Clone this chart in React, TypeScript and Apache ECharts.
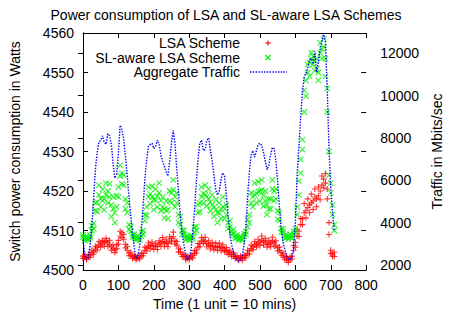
import React, { useEffect, useRef } from "react";
import * as echarts from "echarts";

const FONT = '"Liberation Sans", Arial, Helvetica, sans-serif';

const titleText = "Power consumption of LSA and SL-aware LSA Schemes";
const xName = "Time (1 unit = 10 mins)";
const yLeftName = "Switch power consumption in Watts";
const yRightName = "Traffic in Mbits/sec";
const legendNames = ["LSA Scheme", "SL-aware LSA Scheme", "Aggregate Traffic"];

// time steps (1 unit = 10 mins)
const time = [
  0, 5, 10, 15, 20, 25, 30, 35, 40, 45,
  50, 55, 60, 65, 70, 75, 80, 85, 90, 95,
  100, 105, 110, 115, 120, 125, 130, 135, 140, 145,
  150, 155, 160, 165, 170, 175, 180, 185, 190, 195,
  200, 205, 210, 215, 220, 225, 230, 235, 240, 245,
  250, 255, 260, 265, 270, 275, 280, 285, 290, 295,
  300, 305, 310, 315, 320, 325, 330, 335, 340, 345,
  350, 355, 360, 365, 370, 375, 380, 385, 390, 395,
  400, 405, 410, 415, 420, 425, 430, 435, 440, 445,
  450, 455, 460, 465, 470, 475, 480, 485, 490, 495,
  500, 505, 510, 515, 520, 525, 530, 535, 540, 545,
  550, 555, 560, 565, 570, 575, 580, 585, 590, 595,
  600, 605, 610, 615, 620, 625, 630, 635, 640, 645,
  650, 655, 660, 665, 670, 675, 680, 685, 690, 695,
  700, 705, 710,
];

// Aggregate traffic (Mbits/sec), right axis
const traffic = [
  3200, 2500, 2250, 2350, 2900, 3900, 5100, 6500, 7300, 7800,
  7900, 8100, 7800, 7700, 8200, 8100, 7700, 6800, 6100, 6300,
  7300, 8600, 8400, 7900, 7100, 6200, 5200, 4300, 3500, 2800,
  2300, 2400, 2900, 3700, 4800, 6100, 7000, 7600, 7700, 7750,
  7500, 7600, 7900, 7700, 7200, 6900, 6650, 6400, 6200, 6900,
  7800, 8350, 7700, 6500, 5400, 4300, 3500, 2950, 2500, 2250,
  2350, 2650, 3500, 4600, 5900, 7000, 7750, 7900, 7400, 7450,
  7900, 8000, 7400, 6900, 6200, 5550, 5300, 5500, 6050, 6350,
  6200, 5300, 4300, 3500, 2950, 2600, 2400, 2250, 2150, 2250,
  2450, 2950, 3700, 5200, 6400, 7200, 7400, 7100, 7400, 7700,
  7750, 7650, 7300, 6900, 6500, 6700, 7200, 7550, 7500, 6900,
  5900, 4700, 3700, 3100, 2750, 2450, 2300, 2250, 2400, 2800,
  4000, 6300, 7600, 9000, 10200, 10900, 11050, 11300, 11700, 11750,
  11500, 12100, 11100, 11600, 12200, 12600, 12950, 12500, 10300, 7500,
  5600, 4500, 3600,
];

// LSA scheme power (W), two readings per time step (band spread)
const lsaA = [
  4503.5, 4503.2, 4503.0, 4503.3, 4503.8, 4504.3, 4504.6, 4505.3, 4505.8, 4506.3,
  4506.8, 4506.6, 4507.0, 4507.2, 4506.9, 4506.4, 4505.9, 4505.5, 4505.1, 4505.4,
  4507.5, 4508.6, 4509.4, 4507.8, 4506.5, 4505.0, 4504.3, 4503.8, 4503.4, 4503.2,
  4503.0, 4503.0, 4503.3, 4503.6, 4504.2, 4505.0, 4505.6, 4506.0, 4506.3, 4506.2,
  4506.0, 4505.9, 4506.0, 4506.5, 4507.0, 4507.2, 4506.9, 4506.7, 4506.8, 4507.3,
  4508.0, 4508.4, 4507.4, 4506.3, 4505.3, 4504.5, 4504.0, 4503.5, 4503.1, 4503.0,
  4503.1, 4503.3, 4503.6, 4504.2, 4505.0, 4505.8, 4506.7, 4507.3, 4507.6, 4507.2,
  4506.7, 4506.4, 4506.2, 4506.0, 4505.9, 4505.8, 4505.9, 4505.9, 4505.7, 4505.5,
  4505.3, 4504.9, 4504.6, 4504.3, 4504.0, 4503.8, 4503.4, 4503.1, 4503.0, 4503.0,
  4503.0, 4503.2, 4503.7, 4504.2, 4504.8, 4505.4, 4505.9, 4506.3, 4506.6, 4506.8,
  4507.1, 4507.5, 4507.3, 4507.0, 4506.6, 4506.5, 4506.8, 4507.2, 4507.0, 4506.3,
  4505.6, 4505.0, 4504.5, 4503.6, 4503.2, 4502.8, 4502.5, 4502.6, 4503.5, 4505.0,
  4507.0, 4508.6, 4509.8, 4511.5, 4513.0, 4514.5, 4515.0, 4515.8, 4516.5, 4517.0,
  4517.5, 4518.5, 4518.0, 4518.8, 4520.0, 4521.5, 4523.0, 4522.0, 4520.5, 4509.0,
  4505.0, 4504.0, 4503.4,
];
const lsaB = [
  4502.9, 4503.8, 4502.6, 4503.9, 4503.2, 4505.0, 4504.0, 4506.0, 4505.0, 4507.2,
  4505.8, 4507.5, 4506.0, 4508.0, 4506.0, 4507.5, 4505.0, 4506.4, 4504.4, 4506.3,
  4506.6, 4509.8, 4508.2, 4509.0, 4505.6, 4506.0, 4503.6, 4504.5, 4502.9, 4503.7,
  4502.6, 4503.5, 4502.8, 4504.2, 4503.6, 4505.8, 4504.8, 4506.9, 4505.4, 4507.1,
  4505.2, 4506.8, 4505.2, 4507.4, 4506.0, 4508.2, 4506.0, 4507.8, 4505.9, 4508.4,
  4507.1, 4509.6, 4506.6, 4507.2, 4504.6, 4505.3, 4503.4, 4504.0, 4502.6, 4503.5,
  4502.6, 4503.8, 4503.0, 4504.9, 4504.3, 4506.7, 4505.9, 4508.2, 4506.8, 4508.3,
  4505.9, 4507.4, 4505.3, 4507.0, 4505.1, 4506.8, 4505.0, 4506.8, 4504.9, 4506.4,
  4504.6, 4505.7, 4503.9, 4505.0, 4503.4, 4504.4, 4502.9, 4503.6, 4502.5, 4503.5,
  4502.5, 4503.7, 4503.1, 4505.0, 4504.0, 4506.3, 4505.1, 4507.2, 4505.8, 4507.8,
  4506.2, 4508.6, 4506.4, 4508.0, 4505.8, 4507.5, 4505.9, 4508.3, 4506.0, 4507.4,
  4504.8, 4505.8, 4503.8, 4504.3, 4502.6, 4503.4, 4501.9, 4503.2, 4502.8, 4506.2,
  4505.8, 4510.2, 4508.5, 4513.0, 4511.5, 4516.8, 4513.2, 4518.0, 4514.5, 4519.2,
  4515.3, 4520.5, 4516.0, 4521.0, 4517.8, 4523.8, 4520.8, 4524.4, 4518.0, 4512.0,
  4504.2, 4503.5, 4504.5,
];

// SL-aware LSA scheme power (W), two readings per time step
const slA = [
  4508.3, 4508.0, 4507.9, 4508.1, 4508.8, 4510.0, 4511.8, 4515.0, 4517.2, 4519.0,
  4518.2, 4517.5, 4518.0, 4519.0, 4520.0, 4518.5, 4516.5, 4515.5, 4514.5, 4516.0,
  4521.0, 4523.8, 4524.5, 4521.5, 4518.0, 4514.5, 4511.5, 4509.8, 4509.0, 4508.3,
  4508.0, 4508.0, 4508.2, 4508.6, 4510.0, 4512.5, 4516.0, 4518.5, 4519.3, 4518.5,
  4517.8, 4517.7, 4518.8, 4519.5, 4517.5, 4516.0, 4515.5, 4515.0, 4515.3, 4517.5,
  4519.5, 4520.3, 4518.5, 4517.0, 4514.0, 4511.5, 4510.0, 4509.0, 4508.4, 4508.0,
  4508.0, 4508.2, 4508.4, 4509.5, 4511.0, 4514.5, 4517.0, 4518.5, 4519.4, 4519.0,
  4518.6, 4518.0, 4517.2, 4516.5, 4516.0, 4515.2, 4514.5, 4514.4, 4515.5, 4516.0,
  4515.5, 4514.0, 4512.0, 4510.8, 4509.8, 4509.2, 4508.6, 4508.2, 4508.0, 4508.0,
  4508.0, 4508.6, 4509.8, 4511.0, 4514.0, 4516.9, 4518.5, 4519.0, 4519.4, 4519.8,
  4520.0, 4520.3, 4518.8, 4517.5, 4516.5, 4515.5, 4518.0, 4520.5, 4520.0, 4518.0,
  4515.0, 4512.5, 4510.5, 4509.5, 4508.6, 4508.4, 4508.3, 4508.4, 4508.5, 4509.0,
  4510.5, 4514.0, 4519.0, 4524.5, 4533.0, 4540.0, 4548.0, 4550.0, 4552.5, 4553.5,
  4552.0, 4553.0, 4551.0, 4550.0, 4555.0, 4556.0, 4556.5, 4553.5, 4540.0, 4524.0,
  4519.5, 4514.0, 4510.0,
];
const slB = [
  4508.9, 4507.5, 4508.6, 4507.6, 4508.2, 4511.2, 4510.4, 4517.0, 4514.8, 4521.5,
  4516.0, 4520.5, 4515.2, 4522.0, 4517.0, 4521.8, 4513.5, 4518.5, 4512.0, 4518.8,
  4518.5, 4526.5, 4521.8, 4524.0, 4515.5, 4517.0, 4510.2, 4511.0, 4508.3, 4509.0,
  4507.5, 4508.6, 4507.7, 4509.5, 4509.0, 4514.0, 4513.8, 4521.0, 4516.8, 4521.2,
  4515.3, 4520.5, 4516.0, 4522.0, 4515.0, 4518.5, 4513.2, 4517.5, 4513.0, 4520.0,
  4517.0, 4522.8, 4516.0, 4519.5, 4512.0, 4513.5, 4509.0, 4510.0, 4507.7, 4508.6,
  4507.5, 4508.8, 4507.8, 4510.8, 4510.0, 4516.5, 4514.8, 4521.0, 4517.0, 4521.5,
  4516.2, 4520.5, 4515.0, 4519.0, 4513.6, 4517.8, 4512.0, 4517.0, 4513.0, 4518.5,
  4513.0, 4516.5, 4510.5, 4512.5, 4509.0, 4510.2, 4508.0, 4508.9, 4507.5, 4508.6,
  4507.5, 4509.2, 4509.0, 4512.8, 4512.0, 4519.5, 4516.0, 4522.0, 4517.0, 4522.3,
  4517.5, 4522.8, 4516.2, 4520.0, 4514.0, 4518.0, 4515.5, 4522.8, 4517.5, 4520.5,
  4512.8, 4514.5, 4509.6, 4510.4, 4508.0, 4509.0, 4507.8, 4509.0, 4508.0, 4509.8,
  4509.6, 4516.0, 4522.5, 4528.0, 4530.5, 4545.5, 4544.0, 4552.0, 4549.0, 4555.0,
  4554.0, 4550.5, 4553.5, 4548.0, 4557.5, 4553.5, 4558.5, 4549.0, 4546.0, 4530.0,
  4522.0, 4516.5, 4511.5,
];

const RED = "#ff0000";
const GREEN = "#00f000";
const BLUE = "#0000ff";
const PLUS = "path://M0,5L10,5M5,0L5,10";
const CROSS = "path://M0,0L10,10M0,10L10,0";

export default function App() {
  const ref = useRef<HTMLDivElement>(null);

  useEffect(() => {
    document.body.style.margin = "0";
    if (!ref.current) return;
    const chart = echarts.init(ref.current, undefined, { renderer: "svg" });

    const lsaPoints: number[][] = [];
    const slPoints: number[][] = [];
    const trafficPoints: number[][] = [];
    time.forEach((t, i) => {
      lsaPoints.push([t, lsaA[i]], [t, lsaB[i]]);
      slPoints.push([t, slA[i]], [t, slB[i]]);
      trafficPoints.push([t, traffic[i]]);
    });

    const axisLine = { show: true, lineStyle: { color: "#000", width: 1 } };
    const label = {
      color: "#000",
      fontSize: 14,
      fontFamily: FONT,
      formatter: (v: number) => String(v),
    };
    const nameStyle = { color: "#000", fontSize: 14, fontFamily: FONT };
    const tick = { show: true, inside: true, length: 5, lineStyle: { color: "#000" } };

    const option: any = {
      animation: false,
      backgroundColor: "#ffffff",
      title: {
        text: titleText,
        left: "center",
        top: 3,
        textStyle: { color: "#000", fontSize: 14, fontWeight: "normal", fontFamily: FONT },
      },
      grid: { left: 82, right: 79, top: 33, bottom: 47, containLabel: false },
      xAxis: [
        {
          type: "value",
          position: "bottom",
          min: 0,
          max: 800,
          interval: 100,
          axisLine,
          axisTick: tick,
          axisLabel: { ...label, margin: 8 },
          splitLine: { show: false },
          name: xName,
          nameLocation: "middle",
          nameGap: 27,
          nameTextStyle: nameStyle,
        },
        {
          type: "value",
          position: "top",
          min: 0,
          max: 800,
          interval: 100,
          axisLine,
          axisTick: tick,
          axisLabel: { show: false },
          splitLine: { show: false },
        },
      ],
      yAxis: [
        {
          type: "value",
          position: "left",
          min: 4500,
          max: 4560,
          interval: 10,
          axisLine,
          axisTick: tick,
          axisLabel: { ...label, margin: 9 },
          splitLine: { show: false },
          name: yLeftName,
          nameLocation: "middle",
          nameRotate: 90,
          nameGap: 61,
          nameTextStyle: nameStyle,
        },
        {
          type: "value",
          position: "right",
          min: 1760,
          max: 12960,
          splitNumber: 5,
          axisLine,
          axisTick: tick,
          axisLabel: { ...label, margin: 14, showMinLabel: false, showMaxLabel: false },
          splitLine: { show: false },
          name: yRightName,
          nameLocation: "middle",
          nameRotate: 90,
          nameGap: 57,
          nameTextStyle: nameStyle,
        },
        {
          type: "value",
          position: "right",
          offset: 0,
          min: 4500,
          max: 4560,
          interval: 10,
          axisLine: { show: false },
          axisTick: tick,
          axisLabel: { show: false },
          splitLine: { show: false },
        },
      ],
      series: [
        {
          name: legendNames[0],
          type: "scatter",
          xAxisIndex: 0,
          yAxisIndex: 0,
          data: lsaPoints,
          symbol: PLUS,
          symbolSize: 6,
          itemStyle: { color: RED, borderColor: RED, borderWidth: 1.1 },
          z: 2,
        },
        {
          name: legendNames[1],
          type: "scatter",
          xAxisIndex: 0,
          yAxisIndex: 0,
          data: slPoints,
          symbol: CROSS,
          symbolSize: 5.5,
          itemStyle: { color: GREEN, borderColor: GREEN, borderWidth: 1.1 },
          z: 3,
        },
        {
          name: legendNames[2],
          type: "line",
          xAxisIndex: 0,
          yAxisIndex: 1,
          data: trafficPoints,
          showSymbol: false,
          symbol: "none",
          lineStyle: { color: BLUE, width: 1.4, type: [1.4, 1.4] },
          z: 4,
        },
      ],
      graphic: [
        {
          type: "text",
          x: 240,
          y: 43,
          style: { text: legendNames[0], fill: "#000", font: `14px ${FONT}`, align: "right", verticalAlign: "middle" },
        },
        {
          type: "text",
          x: 240,
          y: 57.5,
          style: { text: legendNames[1], fill: "#000", font: `14px ${FONT}`, align: "right", verticalAlign: "middle" },
        },
        {
          type: "text",
          x: 240,
          y: 72,
          style: { text: legendNames[2], fill: "#000", font: `14px ${FONT}`, align: "right", verticalAlign: "middle" },
        },
        { type: "line", shape: { x1: 265.5, y1: 43, x2: 270.5, y2: 43 }, style: { stroke: RED, lineWidth: 1.1 } },
        { type: "line", shape: { x1: 268, y1: 40.5, x2: 268, y2: 45.5 }, style: { stroke: RED, lineWidth: 1.1 } },
        { type: "line", shape: { x1: 265.5, y1: 55, x2: 270.5, y2: 60 }, style: { stroke: GREEN, lineWidth: 1.1 } },
        { type: "line", shape: { x1: 265.5, y1: 60, x2: 270.5, y2: 55 }, style: { stroke: GREEN, lineWidth: 1.1 } },
        {
          type: "line",
          shape: { x1: 250, y1: 72, x2: 287, y2: 72 },
          style: { stroke: BLUE, lineWidth: 1.4, lineDash: [1.4, 1.4] },
        },
      ],
    };

    chart.setOption(option);
    return () => chart.dispose();
  }, []);

  return (
    <div
      ref={ref}
      style={{ position: "fixed", left: 0, top: 0, width: 452, height: 317, background: "#fff" }}
    />
  );
}
